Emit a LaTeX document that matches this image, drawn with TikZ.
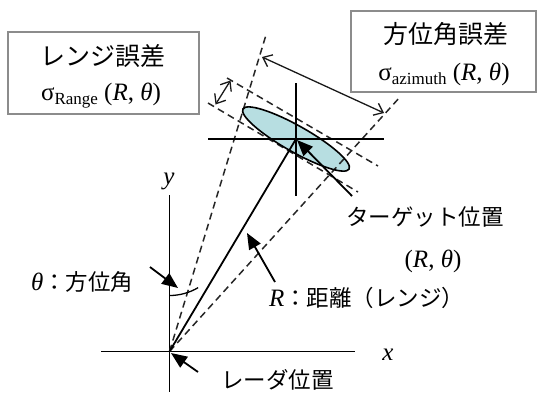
\documentclass[tikz,border=0pt]{standalone}
\usepackage{fontspec}
\setmainfont{Liberation Serif}
\newfontfamily\jp{Noto Sans CJK JP}
\usetikzlibrary{arrows.meta}
\tikzset{
  axis/.style={line width=1.8pt, black},
  dashline/.style={line width=1.5pt, draw=black!85, dash pattern=on 7pt off 4.5pt},
  callout/.style={line width=1.8pt, -{Triangle[length=16pt,width=13pt]}},
  errarrow/.style={line width=1.3pt, draw=black!90, {Straight Barb[length=8pt,width=13pt]}-{Straight Barb[length=8pt,width=13pt]}},
  errbox/.style={draw=black!45, line width=1.5pt, fill=white, inner sep=0pt},
  jtext/.style={font=\jp\fontsize{22.5}{22.5}\selectfont, inner sep=0pt},
  jtitle/.style={font=\jp\fontsize{25}{25}\selectfont, inner sep=0pt},
  ltext/.style={font=\fontsize{25}{25}\selectfont, inner sep=0pt},
}
\newcommand{\sgm}[1]{σ\raisebox{-4pt}{\fontsize{17}{17}\selectfont #1}}
\begin{document}
\begin{tikzpicture}[x=1pt,y=-1pt]
\useasboundingbox (0,0) rectangle (537,392);
% boxes
\node[errbox, minimum width=191pt, minimum height=82pt] (rbox) at (103.5,73) {};
\node[errbox, minimum width=185pt, minimum height=81pt] (abox) at (443.5,51.5) {};
\node[jtitle] (rtitle) at (103,56) {レンジ誤差};
\node[ltext] (rsig) at (101,96) {\sgm{Range} (\textit{R}, \textit{θ})};
\node[jtitle] (atitle) at (446,34) {方位角誤差};
\node[ltext] (asig) at (444,74) {\sgm{azimuth} (\textit{R}, \textit{θ})};
% key points
\coordinate (O) at (169.5,351.5);
\coordinate (T) at (296,139);
% axes
\coordinate (xs) at (101,351.5);
\coordinate (xe) at (355,351.5);
\coordinate (ys) at (169.5,195);
\coordinate (ye) at (169.5,392);
\draw[axis] (xs) -- (xe);
\draw[axis] (ys) -- (ye);
\node[ltext, font=\itshape\fontsize{25}{25}\selectfont] (xl) at (388,355) {x};
\node[ltext, font=\itshape\fontsize{25}{25}\selectfont] (yl) at (169,181) {y};
% ellipse
\fill[fill={rgb,255:red,183;green,222;blue,225}] (T) ellipse[x radius=61pt, y radius=13pt, rotate=-29.5];
% dashed lines
\coordinate (AL) at (266,35);
\coordinate (AR) at (400,97);
\coordinate (RU1) at (227,78);
\coordinate (RU2) at (378,166);
\coordinate (RL1) at (208,103);
\coordinate (RL2) at (358,192);
\draw[dashline] (O) -- (AL);
\draw[dashline] (O) -- (AR);
\draw[dashline] (RU1) -- (RU2);
\draw[dashline] (RL1) -- (RL2);
\draw[line width=1.6pt] (T) ellipse[x radius=61pt, y radius=13pt, rotate=-29.5];
% target cross
\coordinate (tv1) at (296,83);
\coordinate (tv2) at (296,196);
\coordinate (th1) at (208,139);
\coordinate (th2) at (384,139);
\draw[axis] (tv1) -- (tv2);
\draw[axis] (th1) -- (th2);
% radial line
\draw[axis] (O) -- (T);
% angle arc
\draw[line width=1.3pt] (169.5,295.5) arc[start angle=-90, end angle=-59.3, radius=56pt];
% error arrows
\coordinate (ea1) at (262,57);
\coordinate (ea2) at (384,113);
\draw[errarrow] (ea1) -- (ea2);
\coordinate (er1) at (215.5,104.5);
\coordinate (er2) at (230.5,80.5);
\draw[errarrow] (er1) -- (er2);
% callouts
\coordinate (c1s) at (150,267);
\coordinate (c1e) at (178,288);
\draw[callout] (c1s) -- (c1e);
\coordinate (c2s) at (275,282);
\coordinate (c2e) at (247,233);
\draw[callout] (c2s) -- (c2e);
\coordinate (c3s) at (352,196);
\coordinate (c3e) at (297,140);
\draw[callout] (c3s) -- (c3e);
\coordinate (c4s) at (198,372);
\coordinate (c4e) at (171,353);
\draw[callout] (c4s) -- (c4e);
% labels
\node[ltext, anchor=west] (thl) at (31,282) {\textit{θ}\jp\fontsize{22.5}{22.5}\selectfont：方位角};
\node[ltext, anchor=west] (rl) at (269,298) {\textit{R}\jp\fontsize{22.5}{22.5}\selectfont：距離（レンジ）};
\node[jtext, anchor=west] (tl) at (346,217) {ターゲット位置};
\node[ltext] (trt) at (433,261) {(\textit{R}, \textit{θ})};
\node[jtext, anchor=west] (rdl) at (221,380) {レーダ位置};
\end{tikzpicture}
\end{document}
